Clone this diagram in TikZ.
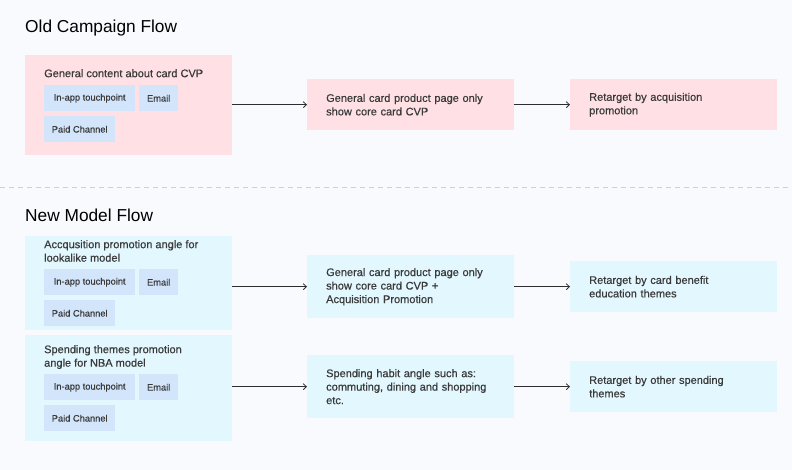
\documentclass[tikz,border=0pt]{standalone}
\usepackage{fontspec}
\setmainfont{Liberation Sans}
\newfontfamily\medfont[FakeBold=0.5]{Liberation Sans}
\usetikzlibrary{arrows.meta}
\definecolor{bgc}{HTML}{F9FAFE}
\definecolor{pinkc}{HTML}{FFE1E5}
\definecolor{cyanc}{HTML}{E2F7FE}
\definecolor{chipc}{HTML}{D2E5FB}
\definecolor{txtc}{HTML}{3A3A3A}
\definecolor{linec}{HTML}{2E2E2E}
\definecolor{dashc}{HTML}{CFCFD4}
\tikzset{
  panel/.style={anchor=north west, inner sep=0pt, minimum width=207pt, fill=#1},
  flowbox/.style={anchor=north west, fill=#1, inner xsep=19pt, inner ysep=0pt,
    text width=169pt, align=left, font=\medfont\fontsize{11}{13.5}\selectfont,
    text=txtc},
  heading/.style={anchor=north west, inner sep=0pt, align=left,
    font=\medfont\fontsize{11}{13.5}\selectfont, text=txtc},
  chip/.style={anchor=north west, fill=chipc, inner sep=0pt, minimum height=26pt,
    font=\medfont\fontsize{9.3}{10}\selectfont, text=txtc},
  title/.style={anchor=west, inner sep=0pt, font=\fontsize{17.3}{20}\selectfont, text=black},
  arr/.style={draw=linec, line width=0.8pt, -{Straight Barb[length=3.2pt,width=6pt]}}
}
\begin{document}
\begin{tikzpicture}[x=1pt,y=-1pt]
\fill[bgc] (0,0) rectangle (792,470);
\useasboundingbox (0,0) rectangle (792,470);

% ---- old flow ----
\node[title] (t1) at (25,28) {Old Campaign Flow};
\node[panel=pinkc, minimum height=100pt] (p1) at (25,55) {};
\node[heading] (h1) at (44,69) {General content about card CVP};
\node[chip, minimum width=91pt] (c1a) at (44,85) {In-app touchpoint};
\node[chip, minimum width=39pt] (c1b) at (139,85) {Email};
\node[chip, minimum width=71pt] (c1c) at (44,116) {Paid Channel};
\node[flowbox=pinkc, minimum height=51pt] (o2) at (307,79) {General card product page only\\show core card CVP};
\node[flowbox=pinkc, minimum height=51pt] (o3) at (570,79) {Retarget by acquisition\\promotion};
\draw[arr] (p1.east |- o2.west) -- (o2.west);
\draw[arr] (o2.east) -- (o3.west);

% ---- separator ----
\coordinate (sl) at (0,187);
\coordinate (sr) at (792,187);
\draw[dashc, line width=0.8pt, dash pattern=on 5pt off 4pt] (sl) -- (sr);

% ---- new flow ----
\node[title] (t2) at (25,215) {New Model Flow};
\node[panel=cyanc, minimum height=94pt] (pa) at (25,236) {};
\node[heading] (ha) at (44,240) {Accqusition promotion angle for\\lookalike model};
\node[chip, minimum width=91pt] (cAa) at (44,269) {In-app touchpoint};
\node[chip, minimum width=39pt] (cAb) at (139,269) {Email};
\node[chip, minimum width=71pt] (cAc) at (44,300) {Paid Channel};
\node[flowbox=cyanc, minimum height=63pt] (nb) at (307,255) {General card product page only\\show core card CVP +\\Acquisition Promotion};
\node[flowbox=cyanc, minimum height=51pt] (nc) at (570,261) {Retarget by card benefit\\education themes};
\draw[arr] (pa.east |- nb.west) -- (nb.west);
\draw[arr] (nb.east) -- (nc.west |- nb.east);

\node[panel=cyanc, minimum height=106pt] (pd) at (25,335) {};
\node[heading] (hd) at (44,345) {Spending themes promotion\\angle for NBA model};
\node[chip, minimum width=91pt] (cDa) at (44,374) {In-app touchpoint};
\node[chip, minimum width=39pt] (cDb) at (139,374) {Email};
\node[chip, minimum width=71pt] (cDc) at (44,405) {Paid Channel};
\node[flowbox=cyanc, minimum height=63pt] (ne) at (307,355) {Spending habit angle such as:\\commuting, dining and shopping\\etc.};
\node[flowbox=cyanc, minimum height=51pt] (nf) at (570,361) {Retarget by other spending\\themes};
\draw[arr] (pd.east |- ne.west) -- (ne.west);
\draw[arr] (ne.east) -- (nf.west |- ne.east);
\end{tikzpicture}
\end{document}
